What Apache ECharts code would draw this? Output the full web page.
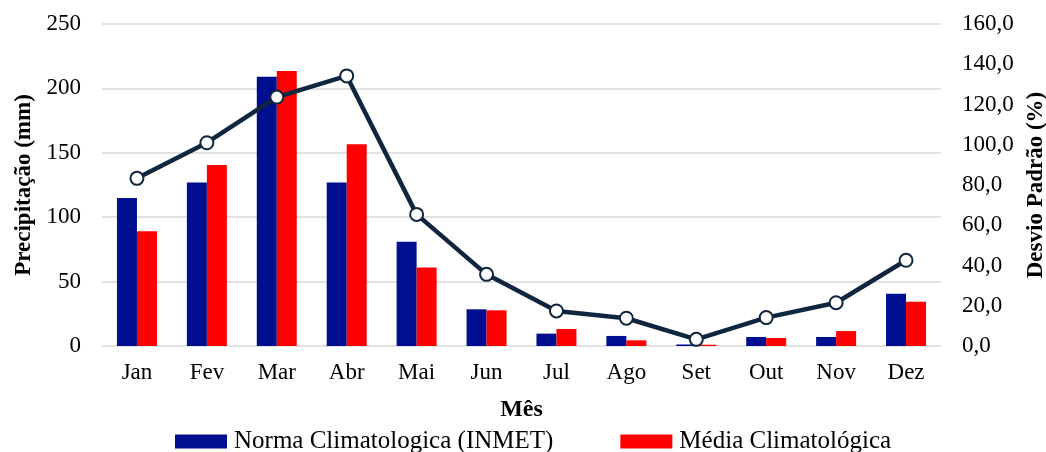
<!DOCTYPE html>
<html lang="pt-BR">
<head>
    <meta charset="UTF-8">
    <title>Precipitação mensal</title>
    <script src="https://cdn.jsdelivr.net/npm/echarts@6.0.0/dist/echarts.min.js"></script>
    <style>
        body { margin: 0; padding: 0; background: #fff; }
        #chart { width: 1046px; height: 452px; }
    </style>
</head>
<body>
    <div id="chart"></div>
    <script>
        // dados
        const meses = ['Jan', 'Fev', 'Mar', 'Abr', 'Mai', 'Jun', 'Jul', 'Ago', 'Set', 'Out', 'Nov', 'Dez'];
        const normaInmet = [115, 127, 209, 127, 81, 28.5, 9.6, 7.8, 1.2, 7.0, 7.0, 40.6];
        const mediaClima = [89, 140.5, 213.5, 156.6, 61, 27.7, 13.2, 4.4, 1.0, 6.2, 11.6, 34.4];
        const desvioPadrao = [83.3, 101.0, 123.7, 134.2, 65.4, 35.6, 17.4, 13.8, 3.3, 14.1, 21.5, 42.6];

        const fonte = 'Liberation Serif, Times New Roman, serif';
        const myChart = echarts.init(document.getElementById('chart'));

        const option = {
            backgroundColor: '#fff',
            textStyle: { fontFamily: fonte },
            grid: { left: 102, right: 105, top: 24, bottom: 106, outerBoundsMode: 'none', containLabel: false },
            legend: {
                data: ['Norma Climatologica (INMET)', 'Média Climatológica'],
                top: 424,
                left: 170,
                itemWidth: 52,
                itemHeight: 14,
                itemGap: 67,
                icon: 'rect',
                textStyle: { fontFamily: fonte, fontSize: 25, color: '#000', padding: [0, 0, 0, 2] }
            },
            xAxis: {
                type: 'category',
                data: meses,
                name: 'Mês',
                nameLocation: 'middle',
                nameGap: 52,
                nameTextStyle: { fontFamily: fonte, fontSize: 24, fontWeight: 'bold', color: '#000' },
                axisLine: { show: false },
                axisTick: { show: false },
                axisLabel: { fontFamily: fonte, fontSize: 23, color: '#000', margin: 15 }
            },
            yAxis: [{
                type: 'value',
                min: 0,
                max: 250,
                interval: 50,
                name: 'Precipitação (mm)',
                nameLocation: 'middle',
                nameGap: 66,
                nameTextStyle: { fontFamily: fonte, fontSize: 23, fontWeight: 'bold', color: '#000' },
                axisLine: { show: false },
                axisTick: { show: false },
                axisLabel: { fontFamily: fonte, fontSize: 23, color: '#000', margin: 21 },
                splitLine: { lineStyle: { color: '#d9d9d9', width: 1.5 } }
            }, {
                type: 'value',
                min: 0,
                max: 160,
                interval: 20,
                name: 'Desvio Padrão (%)',
                nameLocation: 'middle',
                nameGap: 82,
                nameTextStyle: { fontFamily: fonte, fontSize: 23, fontWeight: 'bold', color: '#000' },
                axisLine: { show: false },
                axisTick: { show: false },
                axisLabel: {
                    fontFamily: fonte, fontSize: 23, color: '#000', margin: 21,
                    formatter: v => v.toFixed(1).replace('.', ',')
                },
                splitLine: { show: false }
            }],
            series: [{
                name: 'Norma Climatologica (INMET)',
                type: 'bar',
                data: normaInmet,
                barWidth: 20,
                barGap: '0%',
                itemStyle: { color: '#000F8F' }
            }, {
                name: 'Média Climatológica',
                type: 'bar',
                data: mediaClima,
                barWidth: 20,
                itemStyle: { color: '#FF0000' }
            }, {
                name: 'Desvio Padrão',
                type: 'line',
                yAxisIndex: 1,
                data: desvioPadrao,
                symbol: 'circle',
                symbolSize: 13,
                lineStyle: { color: '#10263F', width: 4.5 },
                itemStyle: { color: '#fff', borderColor: '#10263F', borderWidth: 2 },
                z: 5
            }]
        };

        myChart.setOption(option);
    </script>
</body>
</html>
